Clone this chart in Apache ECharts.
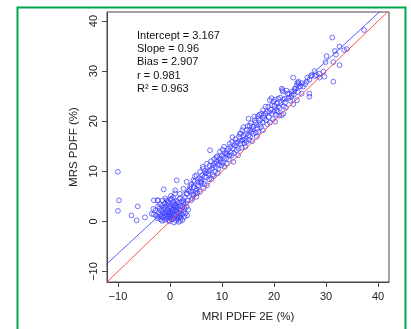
<!DOCTYPE html>
<html>
<head>
<meta charset="utf-8">
<script src="https://cdn.jsdelivr.net/npm/echarts@6/dist/echarts.min.js"></script>
<style>
  html, body { margin: 0; padding: 0; background: #fff; }
  #chart { width: 411px; height: 329px; }
</style>
</head>
<body>
<div id="chart"></div>
<script>
// MRI PDFF 2E (%) vs MRS PDFF (%)
const outlierPoints = [
  [-10.0, 9.9], [-9.8, 4.2], [-10.0, 2.1], [-7.4, 1.2], [-6.4, 0.2], [-6.2, 3.0],
  [-4.8, 0.8], [-3.1, 4.2], [-1.2, 6.4], [-2.4, 4.2], [-1.4, 4.2], [-3.2, 2.5],
  [-3.5, 1.5], [-3.1, 1.4]
];

const lowPoints = [
  [-2.6, 1.1], [-2.4, 0.6], [-2.2, 1.8], [-2.1, 0.9], [-2.0, 2.6], [-1.9, 1.4], [-1.8, 0.4],
  [-1.7, 2.1], [-1.6, 1.0], [-1.5, 3.1], [-1.4, 1.7], [-1.3, 0.7], [-1.2, 2.4], [-1.1, 1.2],
  [-1.0, 3.6], [-1.0, 0.3], [-0.9, 1.9], [-0.8, 2.8], [-0.8, 0.9], [-0.7, 1.5], [-0.6, 3.3],
  [-0.6, 0.5], [-0.5, 2.2], [-0.4, 1.1], [-0.4, 4.0], [-0.3, 1.8], [-0.2, 0.2], [-0.2, 2.6],
  [-0.1, 1.4], [0.0, 3.0], [0.0, 0.8], [0.1, 2.0], [0.1, 4.4], [0.2, 1.2], [0.3, 2.7],
  [0.3, 0.4], [0.4, 1.7], [0.5, 3.4], [0.5, 0.9], [0.6, 2.3], [0.7, 1.4], [0.7, 3.9],
  [0.8, 0.6], [0.9, 2.0], [0.9, 2.9], [1.0, 1.1], [1.1, 3.5], [1.1, 0.2], [1.2, 2.4],
  [1.3, 1.6], [1.3, 4.1], [1.4, 0.8], [1.5, 2.9], [1.5, 1.9], [1.6, 3.7], [1.7, 1.2],
  [1.7, -0.1], [1.8, 2.5], [1.9, 4.6], [1.9, 1.6], [2.0, 3.1], [2.1, 0.7], [2.1, 2.2],
  [2.2, 3.9], [2.3, 1.4], [2.4, 2.8], [2.4, 0.3], [2.5, 4.3], [2.6, 1.9], [2.7, 3.3],
  [2.8, 2.5], [2.8, 0.9], [2.9, 4.8], [3.0, 1.6], [3.1, 3.6], [3.2, 2.9], [3.3, 5.5],
  [3.3, 1.2], [3.4, 4.2], [3.5, 2.3], [-1.9, 3.4], [-0.9, 4.6], [0.2, 5.1], [1.0, 5.6],
  [0.6, 4.8], [-2.8, 2.2], [-2.3, 3.0], [-1.5, 0.1], [-0.1, 0.0], [0.8, -0.2], [1.5, 0.5],
  [2.0, 0.1], [-0.3, 3.7], [0.4, 2.3], [1.2, 3.0], [2.6, 3.8], [-1.1, 2.9], [0.0, 1.5],
  [1.8, 1.0], [0.9, 3.3], [1.3, 8.2], [3.2, 7.9], [4.5, 8.2], [5.8, 7.9], [2.6, 6.5],
  [3.8, 6.5], [5.1, 6.5], [1.9, 5.5], [3.2, 5.5], [4.5, 5.2], [1.0, 6.2], [-2.3, 4.2],
  [-0.6, 4.2], [0.3, 4.5]
];

const midPoints = [
  [4.0, 5.9], [4.2, 7.4], [4.3, 4.6], [4.6, 6.8], [4.8, 9.0], [4.9, 5.6], [5.1, 9.2],
  [5.1, 4.9], [5.4, 7.2], [5.6, 8.6], [5.8, 5.9], [5.8, 9.9], [6.0, 7.6], [6.1, 7.9],
  [6.3, 10.9], [6.4, 10.5], [6.5, 6.6], [6.7, 8.9], [6.9, 9.6], [7.1, 7.2], [7.1, 11.5],
  [7.3, 10.0], [7.5, 8.4], [7.7, 10.2], [7.7, 14.2], [7.9, 12.0], [8.0, 8.5], [8.2, 9.3],
  [8.3, 11.2], [8.5, 12.4], [8.7, 9.9], [8.8, 10.8], [9.0, 11.9], [9.1, 13.0], [9.3, 10.5],
  [9.5, 12.6], [9.6, 13.9], [9.8, 11.8], [9.9, 11.2], [10.1, 14.3], [10.3, 12.9], [10.5, 10.9],
  [10.6, 13.6], [10.9, 11.5], [10.9, 13.5], [11.2, 14.5], [11.3, 12.4], [11.5, 15.5],
  [11.7, 13.7], [11.9, 13.2], [11.9, 15.9], [12.1, 14.6], [12.2, 11.9], [12.5, 15.2],
  [12.6, 16.4], [12.8, 14.2], [13.0, 15.8], [13.1, 13.2], [13.3, 16.9], [13.5, 15.5],
  [13.6, 17.6], [13.8, 14.7], [14.0, 16.3], [14.1, 18.8], [14.3, 15.6], [14.4, 16.2],
  [14.6, 17.4], [14.7, 15.9], [14.9, 19.0], [3.6, 6.1], [3.9, 7.0], [4.1, 4.2], [4.4, 5.4],
  [4.7, 7.9], [5.0, 6.1], [5.3, 5.7], [5.5, 6.9], [5.9, 8.3], [6.2, 9.2], [6.6, 7.5],
  [6.8, 10.1], [7.0, 8.8], [7.4, 9.5], [7.6, 11.1], [8.1, 10.6], [8.4, 9.0], [8.6, 11.6],
  [8.9, 12.8], [9.2, 9.6], [9.4, 11.3], [9.7, 12.3], [10.0, 13.2], [10.2, 11.7], [10.4, 14.9],
  [10.8, 12.6], [11.0, 14.0], [11.4, 13.1], [11.6, 14.9], [12.0, 16.8], [12.3, 13.6],
  [12.7, 15.7], [13.2, 14.5], [13.4, 17.4], [13.7, 16.1], [13.9, 18.2], [14.2, 17.1],
  [14.5, 14.9], [14.8, 18.3]
];

const highPoints = [
  [15.1, 17.2], [15.1, 20.5], [15.2, 16.3], [15.4, 18.2], [15.4, 16.9], [15.6, 19.6],
  [15.7, 17.9], [15.8, 16.0], [16.0, 17.5], [16.0, 18.9], [16.2, 20.9], [16.3, 20.2],
  [16.5, 17.7], [16.7, 19.2], [16.7, 16.9], [16.8, 18.5], [17.0, 20.5], [17.0, 17.9],
  [17.2, 21.3], [17.3, 20.2], [17.5, 18.8], [17.6, 21.5], [17.8, 19.7], [17.9, 22.2],
  [17.9, 18.2], [18.1, 20.6], [18.3, 21.5], [18.4, 22.9], [18.6, 21.9], [18.7, 19.4],
  [18.9, 22.9], [19.0, 20.8], [19.2, 24.2], [19.2, 19.7], [19.4, 22.3], [19.6, 23.2],
  [19.6, 21.5], [19.8, 20.4], [19.9, 23.9], [20.0, 22.0], [20.2, 24.3], [20.2, 19.9],
  [20.4, 21.3], [20.5, 22.2], [20.6, 23.6], [20.8, 24.5], [20.8, 22.9], [21.0, 21.1],
  [21.2, 24.7], [21.3, 23.7], [21.5, 26.5], [21.5, 21.2], [21.6, 26.2], [21.7, 25.9],
  [21.8, 24.3], [21.8, 21.5], [22.1, 23.7], [22.1, 24.5], [22.3, 22.7], [22.6, 25.5],
  [22.9, 25.5], [23.1, 24.1], [23.4, 25.9], [23.4, 25.2], [23.7, 28.7], [23.7, 23.4],
  [23.8, 25.3], [24.0, 26.5], [24.2, 26.5], [24.4, 24.2], [24.4, 27.2], [24.5, 27.7],
  [24.7, 27.9], [24.7, 27.5], [25.0, 26.9], [25.0, 27.0], [25.3, 25.5], [25.6, 26.9],
  [26.0, 27.4], [26.3, 27.9], [26.4, 28.7], [26.8, 28.3], [26.8, 25.5], [26.8, 24.9],
  [27.1, 29.0], [27.2, 29.2], [27.8, 30.0], [27.9, 29.0], [28.2, 29.2], [28.7, 29.5],
  [28.7, 28.7], [29.5, 29.9], [29.7, 28.9], [29.9, 31.8], [30.1, 33.0], [31.2, 36.7],
  [31.4, 31.8], [31.4, 27.9], [31.7, 34.0], [31.9, 33.3], [32.6, 34.9], [32.6, 31.2],
  [33.5, 34.2], [34.0, 34.4], [37.3, 38.2], [15.3, 19.1], [15.9, 18.4], [16.4, 19.7],
  [16.9, 21.0], [17.4, 19.3], [18.0, 21.1], [18.5, 20.2], [19.1, 21.8], [19.5, 24.6],
  [20.1, 23.1], [20.7, 21.9], [21.1, 22.6], [21.9, 23.0], [22.4, 26.1], [22.8, 24.6],
  [23.3, 24.8], [23.9, 26.0], [24.6, 25.8], [25.4, 27.6]
];

const xTicks = [-10, 0, 10, 20, 30, 40];
const yTicks = [-10, 0, 10, 20, 30, 40];
const xRange = [-12.1, 42.1];
const yRange = [-12.1, 41.8];

const intercept = 3.167;
const slope = 0.96;
const statLabels = [
  'Intercept = 3.167',
  'Slope = 0.96',
  'Bias = 2.907',
  'r = 0.981',
  'R\u00b2 = 0.963'
];

const FONT = '"Liberation Sans", Arial, Helvetica, sans-serif';
const minus = (v) => String(v).replace('-', '\u2212');

const chart = echarts.init(document.getElementById('chart'));

const fitLine = [xRange[0] - 1, xRange[1] + 1].map((x) => [x, intercept + slope * x]);
const identityLine = [xRange[0] - 1, xRange[1] + 1].map((x) => [x, x]);

const option = {
  animation: false,
  textStyle: { fontFamily: FONT },
  grid: {
    left: 107, right: 22, top: 12, bottom: 47,
    show: true, borderColor: '#4a4a4a', borderWidth: 1
  },
  xAxis: {
    type: 'value',
    min: xRange[0], max: xRange[1],
    splitLine: { show: false },
    axisLine: { show: true, onZero: false, lineStyle: { color: '#4a4a4a' } },
    axisTick: { customValues: xTicks, length: 5, lineStyle: { color: '#4a4a4a' } },
    axisLabel: {
      customValues: xTicks, formatter: minus,
      fontSize: 11, color: '#222', margin: 9, fontFamily: FONT
    },
    name: 'MRI PDFF 2E (%)',
    nameLocation: 'middle',
    nameGap: 29,
    nameTextStyle: { fontSize: 11.5, color: '#222', fontFamily: FONT }
  },
  yAxis: {
    type: 'value',
    min: yRange[0], max: yRange[1],
    splitLine: { show: false },
    axisLine: { show: true, onZero: false, lineStyle: { color: '#4a4a4a' } },
    axisTick: { customValues: yTicks, length: 5, lineStyle: { color: '#4a4a4a' } },
    axisLabel: {
      customValues: yTicks, formatter: minus, rotate: 90,
      fontSize: 11, color: '#222', margin: 8, fontFamily: FONT
    },
    name: 'MRS PDFF (%)',
    nameLocation: 'middle',
    nameGap: 24,
    nameTextStyle: { fontSize: 11.5, color: '#222', fontFamily: FONT }
  },
  graphic: [
    {
      type: 'rect',
      shape: { x: 17.5, y: 7.5, width: 388, height: 400 },
      style: { fill: 'none', stroke: '#00a84f', lineWidth: 2 },
      silent: true
    },
    {
      type: 'text',
      left: 137, top: 29,
      style: {
        text: statLabels.join('\n'),
        font: '11px ' + FONT,
        lineHeight: 13.3,
        fill: '#111'
      },
      silent: true
    }
  ],
  series: [
    {
      type: 'scatter',
      data: outlierPoints.concat(lowPoints, midPoints, highPoints),
      symbol: 'circle',
      symbolSize: 4.8,
      itemStyle: { color: 'rgba(0,0,0,0)', borderColor: '#3a3aff', borderWidth: 0.9 },
      silent: true
    },
    {
      type: 'line',
      data: identityLine,
      symbol: 'none',
      lineStyle: { color: '#ff5050', width: 1 },
      silent: true
    },
    {
      type: 'line',
      data: fitLine,
      symbol: 'none',
      lineStyle: { color: '#5a5aff', width: 1 },
      silent: true
    }
  ]
};

chart.setOption(option);
</script>
</body>
</html>
